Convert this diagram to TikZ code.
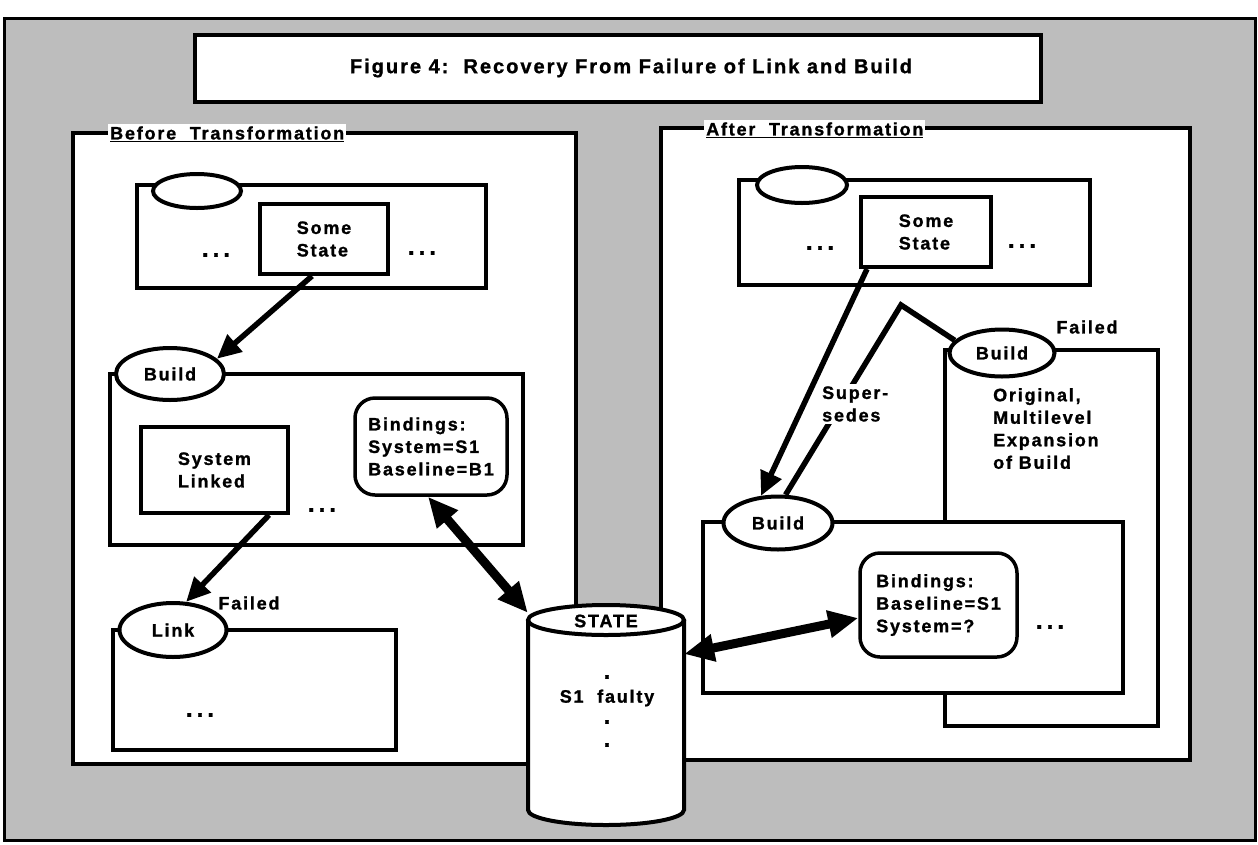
\documentclass[tikz,border=0pt]{standalone}
\usepackage{fontspec}
\setmainfont{Liberation Sans}[LetterSpace=10, BoldFeatures={FakeBold=1.2}]
\usetikzlibrary{shapes.geometric,arrows.meta}
\newcommand\mydots{{\fontsize{24}{24}\selectfont.\kern4pt.\kern4pt.}}
\newcommand\onedot{{\fontsize{24}{24}\selectfont.}}
\begin{document}
\begin{tikzpicture}[x=1pt,y=-1pt,
  every node/.style={font=\fontsize{18}{22.5}\selectfont\bfseries},
  bx/.style={draw, line width=4pt, fill=white, rectangle, inner sep=0pt},
  ell/.style={draw, line width=4pt, fill=white, ellipse, inner sep=0pt},
  rbx/.style={draw, line width=3.5pt, fill=white, rectangle, rounded corners=20pt, inner sep=0pt},
  txt/.style={inner sep=0pt, align=left},
  lbl/.style={fill=white, inner sep=2pt, anchor=west},
  arr/.style={line width=5.5pt, -{Triangle[length=24pt,width=22pt]}},
  darr/.style={line width=9pt, {Triangle[length=30pt,width=26pt]}-{Triangle[length=30pt,width=26pt]}},
  conn/.style={line width=5.5pt},
]
\useasboundingbox (0,0) rectangle (1258,844);
\fill[white] (0,0) rectangle (1258,844);
% outer frame
\node[draw, line width=3pt, fill=gray!52, minimum width=1251pt, minimum height=822pt, inner sep=0pt] (outer) at (629.5,429) {};
% title
\node[bx, line width=3.5pt, minimum width=846pt, minimum height=67pt] (title) at (618,68.5) {};
\node[font=\fontsize{20}{24}\selectfont\bfseries] (titletext) at (631,68) {Figure 4:\ \ Recovery From Failure of Link and Build};

% ---------- Before ----------
\node[bx, minimum width=503pt, minimum height=631pt] (before) at (324.5,448.5) {};
\node[lbl] (beforelbl) at (108,134) {\underline{Before\ \ Transformation}};

\node[bx, minimum width=349pt, minimum height=103pt] (lt) at (311.5,236.5) {};
\node[ell, minimum width=88pt, minimum height=34pt] (lte) at (197,191) {};
\node[bx, minimum width=128pt, minimum height=70pt, align=left] (ss1) at (324,239) {Some\\State};
\node (d1) at (216,255) {\mydots};
\node (d2) at (422,253) {\mydots};

\node[bx, minimum width=413pt, minimum height=171pt] (b1box) at (316.5,459.5) {};
\node[ell, minimum width=108pt, minimum height=52pt] (b1) at (170,374) {Build};
\node[rbx, minimum width=152pt, minimum height=97pt, align=left] (bind1) at (431,446.5) {Bindings:\\System=S1\\Baseline=B1};
\node[bx, minimum width=147pt, minimum height=86pt, align=left] (sl) at (214.5,470) {System\\Linked};
\node (d3) at (322,510) {\mydots};

\node[bx, minimum width=283pt, minimum height=120pt] (lkbox) at (254.5,690) {};
\node[ell, minimum width=107pt, minimum height=54pt] (lk) at (173,630) {Link};
\node (f1) at (249,603) {Failed};
\node (d4) at (200,715) {\mydots};

\draw[arr] ([xshift=-12pt]ss1.south) -- (b1.18);
\draw[arr] ([xshift=-21pt]sl.south east) -- (lk.65);

% ---------- After ----------
\node[bx, minimum width=529pt, minimum height=632pt] (after) at (925.5,444) {};
\node[lbl] (afterlbl) at (704,130) {\underline{After\ \ Transformation}};

\node[bx, minimum width=351pt, minimum height=105pt] (rt) at (914.5,232.5) {};
\node[ell, minimum width=90pt, minimum height=36pt] (rte) at (802,185) {};
\node[bx, minimum width=130pt, minimum height=70pt, align=left] (ss2) at (926,232) {Some\\State};
\node (d5) at (820,248) {\mydots};
\node (d6) at (1022,246) {\mydots};

\node[bx, minimum width=213pt, minimum height=376pt] (orig) at (1051.5,538) {};
\node[ell, minimum width=105pt, minimum height=47pt] (fb) at (1002,353) {Build};
\node (f2) at (1087,327) {Failed};
\node[txt, anchor=north west] (origtxt) at (993,388) {Original,\\Multilevel\\Expansion\\of Build};

\node[bx, minimum width=420pt, minimum height=171pt] (b2box) at (913,607.5) {};
\node[ell, minimum width=109pt, minimum height=53pt] (b2) at (778,523) {Build};
\node[rbx, minimum width=157pt, minimum height=104pt, align=left] (bind2) at (938.5,605) {Bindings:\\Baseline=S1\\System=?};
\node (d7) at (1050,627) {\mydots};

\coordinate (apex) at (901,305);
\draw[conn] (b2.75) -- (apex) -- (fb.165);
\node[txt, fill=white, inner sep=2pt, anchor=west] (sup) at (820,404) {Super-\\sedes};
\draw[arr] ([xshift=8pt]ss2.south west) -- (b2.122);

% ---------- STATE cylinder ----------
\node[minimum width=156pt, minimum height=220pt, inner sep=0pt] (state) at (606,715) {};
\filldraw[fill=white, line width=4pt] (528,620) -- (528,810) arc[start angle=180, end angle=360, x radius=78pt, y radius=15pt] -- (684,620);
\filldraw[fill=white, line width=4pt] (606,620) ellipse[x radius=78pt, y radius=15pt];
\node (statelbl) at (606,621) {STATE};
\node (sd1) at (607,677) {\onedot};
\node (sf) at (607,698) {S1\ \ faulty};
\node (sd2) at (607,722) {\onedot};
\node (sd3) at (607,745) {\onedot};

\draw[darr] ([xshift=-3pt]bind1.south) -- ([yshift=-8pt]state.north west);
\draw[darr] ([yshift=61pt]state.east) -- ([yshift=-13pt]bind2.west);
\end{tikzpicture}
\end{document}
